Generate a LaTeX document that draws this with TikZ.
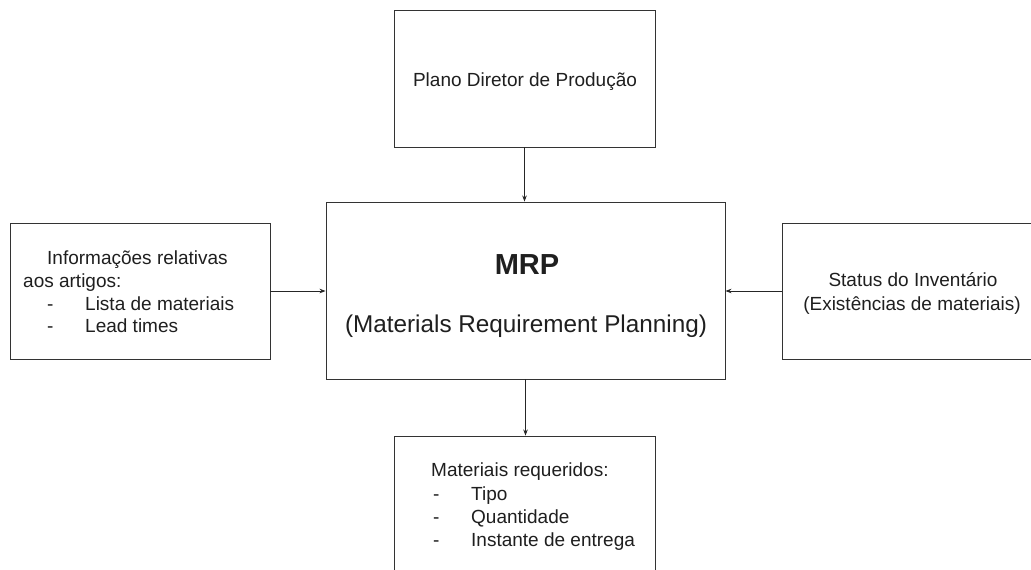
\documentclass[tikz,border=0pt]{standalone}
\usepackage{fontspec}
\setmainfont{Liberation Sans}
\usetikzlibrary{arrows.meta}
\begin{document}
\begin{tikzpicture}[x=1pt,y=-1pt,
  box/.style={draw=black!80, line width=0.9pt, rectangle, inner sep=0pt},
  txt/.style={text=black!88, inner sep=0pt, font=\fontsize{19}{23}\selectfont},
  arr/.style={draw=black!85, line width=0.8pt, -{Stealth[length=6pt,width=4.5pt]}}]
\clip (0,0) rectangle (1031,570);
\fill[white] (0,0) rectangle (1031,570);

% boxes
\node[box, minimum width=261pt, minimum height=137pt] (plano) at (524.5,78.5) {};
\node[box, minimum width=399pt, minimum height=177pt] (mrp) at (525.5,290.5) {};
\node[box, minimum width=260pt, minimum height=136pt] (info) at (140,291) {};
\node[box, minimum width=330pt, minimum height=136pt] (status) at (947,291) {};
\node[box, minimum width=261pt, minimum height=190pt] (mat) at (524.5,531) {};

% texts
\node[txt, anchor=base] (tplano) at (525,86) {Plano Diretor de Produção};
\node[txt, anchor=base, font=\bfseries\fontsize{29}{34}\selectfont] (tmrp) at (527,274) {MRP};
\node[txt, anchor=base, font=\fontsize{24.3}{29}\selectfont] (tmrp2) at (526,332) {(Materials Requirement Planning)};

\node[txt, anchor=base west] (i1) at (47,264) {Informações relativas};
\node[txt, anchor=base west] (i2) at (23,287) {aos artigos:};
\node[txt, anchor=base west] (i3d) at (47,310) {-};
\node[txt, anchor=base west] (i3) at (85,310) {Lista de materiais};
\node[txt, anchor=base west] (i4d) at (47,332) {-};
\node[txt, anchor=base west] (i4) at (85,332) {Lead times};

\node[txt, anchor=base] (s1) at (913,286) {Status do Inventário};
\node[txt, anchor=base] (s2) at (912,310) {(Existências de materiais)};

\node[txt, anchor=base west] (m1) at (431,476) {Materiais requeridos:};
\node[txt, anchor=base west] (m2d) at (433,500) {-};
\node[txt, anchor=base west] (m2) at (471,500) {Tipo};
\node[txt, anchor=base west] (m3d) at (433,523) {-};
\node[txt, anchor=base west] (m3) at (471,523) {Quantidade};
\node[txt, anchor=base west] (m4d) at (433,546) {-};
\node[txt, anchor=base west] (m4) at (471,546) {Instante de entrega};

% connectors
\draw[arr] (plano.south) -- (plano.south |- mrp.north);
\draw[arr] (info.east) -- (info.east -| mrp.west);
\draw[arr] (status.west) -- (status.west -| mrp.east);
\draw[arr] (mrp.south) -- (mrp.south |- mat.north);
\end{tikzpicture}
\end{document}
